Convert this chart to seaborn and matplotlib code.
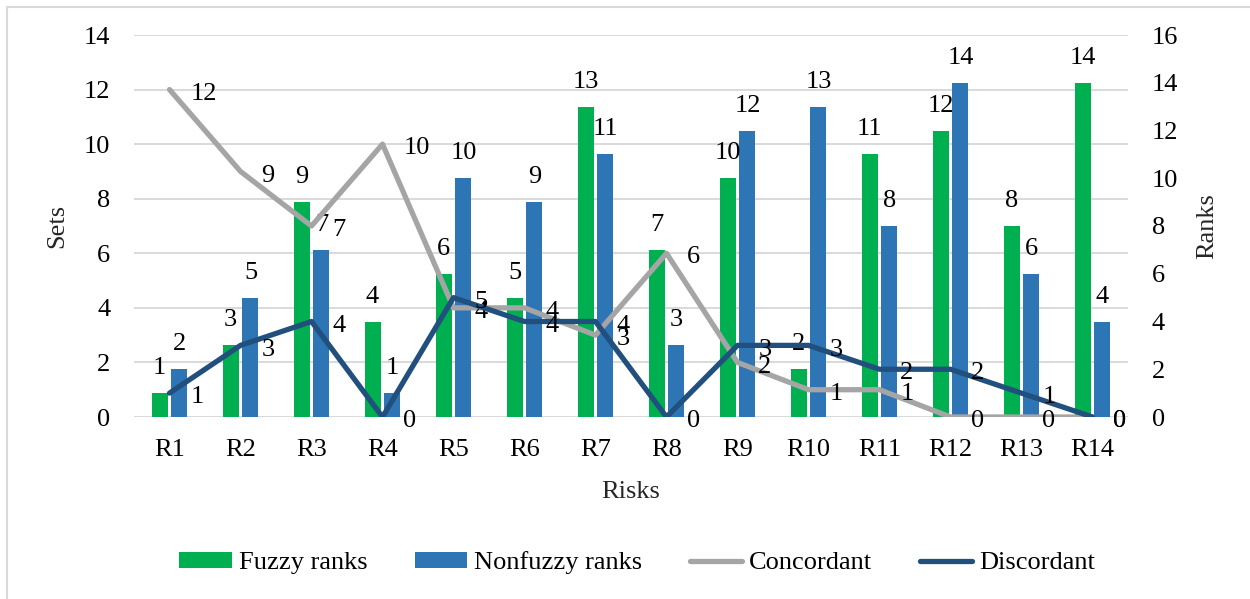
import numpy as np
import pandas as pd
import matplotlib
matplotlib.use("Agg")
import matplotlib.pyplot as plt
from matplotlib.lines import Line2D
from matplotlib.patches import Patch
import seaborn as sns

# ---- data ----
risks = ["R1", "R2", "R3", "R4", "R5", "R6", "R7", "R8", "R9", "R10", "R11", "R12", "R13", "R14"]
fuzzy_ranks = [1, 3, 9, 4, 6, 5, 13, 7, 10, 2, 11, 12, 8, 14]
nonfuzzy_ranks = [2, 5, 7, 1, 10, 9, 11, 3, 12, 13, 8, 14, 6, 4]
concordant = [12, 9, 7, 10, 4, 4, 3, 6, 2, 1, 1, 0, 0, 0]
discordant = [1, 3, 4, 0, 5, 4, 4, 0, 3, 3, 2, 2, 1, 0]

series_names = ["Fuzzy ranks", "Nonfuzzy ranks", "Concordant", "Discordant"]
colors = {"Fuzzy ranks": "#00B050", "Nonfuzzy ranks": "#2E75B6",
          "Concordant": "#A5A5A5", "Discordant": "#22507E"}

sns.set_theme(style="white")
plt.rcParams["font.family"] = ["Liberation Serif", "DejaVu Serif"]
plt.rcParams["text.color"] = "black"
FS = 19

bars_df = pd.DataFrame({
    "Risk": risks * 2,
    "Rank": fuzzy_ranks + nonfuzzy_ranks,
    "Type": ["Fuzzy ranks"] * len(risks) + ["Nonfuzzy ranks"] * len(risks),
})

fig = plt.figure(figsize=(12.5, 5.99), dpi=100)
fig.patch.set_facecolor("white")

# Base axes: "Sets" scale and the horizontal gridlines
ax = fig.add_axes([134 / 1250, 1 - 417 / 599, (1128 - 134) / 1250, (417 - 35) / 599])
ax.set_ylim(0, 14)
ax.set_yticks(range(0, 15, 2))
ax.grid(axis="y", color="#D9D9D9", linewidth=1.4)
ax.grid(axis="x", visible=False)
for s in ax.spines.values():
    s.set_visible(False)

# Bars on the "Ranks" scale
axr = ax.twinx()
sns.barplot(data=bars_df, x="Risk", y="Rank", hue="Type",
            palette=[colors["Fuzzy ranks"], colors["Nonfuzzy ranks"]],
            width=0.563, gap=0.2, linewidth=0, saturation=1,
            legend=False, ax=axr)
axr.set_ylim(0, 16)
axr.set_yticks(range(0, 17, 2))
for cont in axr.containers:
    axr.bar_label(cont, padding=10, fontsize=FS)
for s in axr.spines.values():
    s.set_visible(False)

# Lines drawn on top of the bars: Concordant on the "Sets" scale,
# Discordant on the "Ranks" scale
xpos = np.arange(len(risks))
axc = ax.twinx()
axc.set_ylim(0, 14)
axd = ax.twinx()
axd.set_ylim(0, 16)
for a, name, vals in ((axc, "Concordant", concordant), (axd, "Discordant", discordant)):
    sns.lineplot(x=xpos, y=vals, color=colors[name], linewidth=3.8,
                 solid_capstyle="round", solid_joinstyle="round", ax=a)
    for xi, v in zip(xpos, vals):
        a.annotate(str(v), (xi, v), xytext=(15, -3), textcoords="offset points",
                   ha="left", va="center", fontsize=FS)
    a.set_yticks([])
    a.set_ylabel("")
    for s in a.spines.values():
        s.set_visible(False)

for a in (ax, axr, axc, axd):
    a.set_xlim(-0.5, len(risks) - 0.5)

ax.set_xticks(xpos, risks)
ax.tick_params(axis="x", length=0, pad=16, labelsize=FS, colors="black")
ax.tick_params(axis="y", length=0, pad=17, labelsize=FS, colors="black")
axr.tick_params(axis="y", length=0, pad=17, labelsize=FS, colors="black")
ax.set_xlabel("Risks", fontsize=FS, labelpad=14)
ax.set_ylabel("Sets", fontsize=FS, labelpad=11)
axr.set_ylabel("Ranks", fontsize=FS, labelpad=13)
axr.set_xlabel("")

# Legend
handles = [
    Patch(facecolor=colors["Fuzzy ranks"], edgecolor="none"),
    Patch(facecolor=colors["Nonfuzzy ranks"], edgecolor="none"),
    Line2D([], [], color=colors["Concordant"], linewidth=3.8, solid_capstyle="round"),
    Line2D([], [], color=colors["Discordant"], linewidth=3.8, solid_capstyle="round"),
]
fig.legend(handles, series_names, loc="center", ncol=4, frameon=False,
           bbox_to_anchor=(637 / 1250, 1 - 563 / 599), fontsize=FS,
           handlelength=2.0, handleheight=0.58, handletextpad=0.25,
           columnspacing=1.8)

# Chart area outline (top and left edges)
fig.add_artist(Line2D([7 / 1250, 7 / 1250], [0, 1 - 7 / 599], transform=fig.transFigure,
                      color="#D9D9D9", linewidth=1.5))
fig.add_artist(Line2D([7 / 1250, 1], [1 - 7 / 599, 1 - 7 / 599], transform=fig.transFigure,
                      color="#D9D9D9", linewidth=1.5))

fig.savefig("out.png", dpi=100)
